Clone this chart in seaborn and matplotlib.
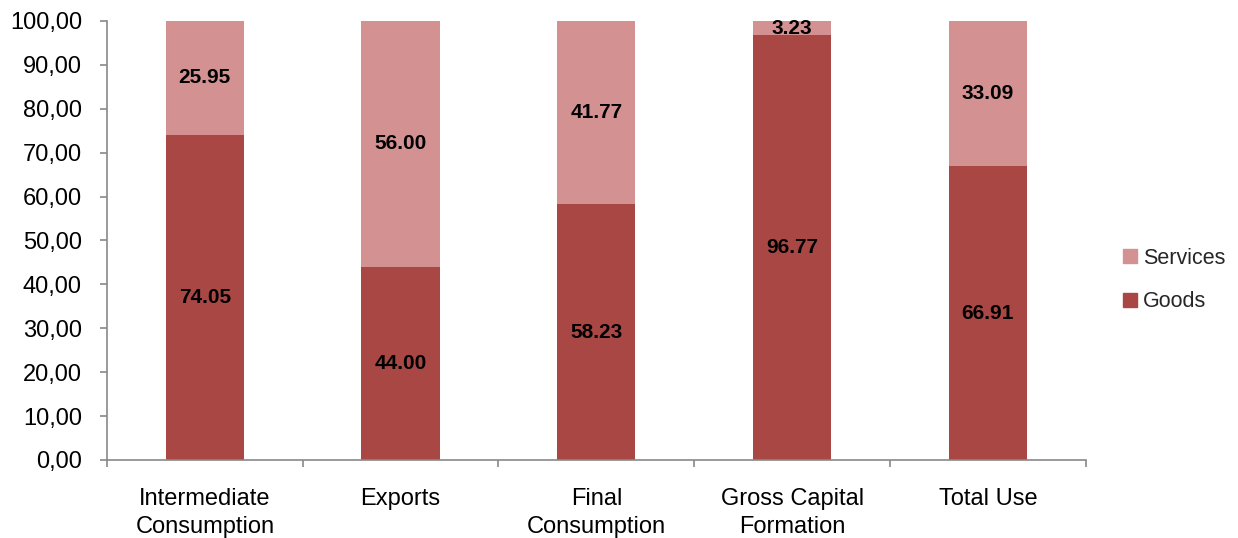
import pandas as pd
import seaborn as sns
import matplotlib.pyplot as plt
from matplotlib.patches import Patch
from matplotlib.ticker import FuncFormatter

# data
categories = ['Intermediate\nConsumption', 'Exports', 'Final\nConsumption',
              'Gross Capital\nFormation', 'Total Use']
goods = [74.05, 44.00, 58.23, 96.77, 66.91]
services = [25.95, 56.00, 41.77, 3.23, 33.09]

goods_color = '#A94745'
services_color = '#D39291'
axis_color = '#898989'

df = pd.DataFrame({'category': categories, 'goods': goods, 'services': services})
df['total'] = df['goods'] + df['services']

sns.set_theme(style='white')
plt.rcParams['font.family'] = ['Liberation Sans', 'DejaVu Sans']

fig = plt.figure(figsize=(12.38, 5.38), dpi=100)
ax = fig.add_axes([0.0864, 0.145, 0.7906, 0.816])

# stack by drawing the total first, then goods on top of it
sns.barplot(data=df, x='category', y='total', color=services_color, width=0.4,
            saturation=1, linewidth=0, ax=ax)
sns.barplot(data=df, x='category', y='goods', color=goods_color, width=0.4,
            saturation=1, linewidth=0, ax=ax)

for i, row in df.iterrows():
    ax.text(i, row['goods'] / 2, f"{row['goods']:.2f}", ha='center', va='center',
            fontsize=15, fontweight='bold', color='black')
    ax.text(i, row['goods'] + row['services'] / 2, f"{row['services']:.2f}",
            ha='center', va='center', fontsize=15, fontweight='bold', color='black')

ax.set_xlim(-0.5, len(categories) - 0.5)
ax.set_ylim(0, 100)
ax.set_yticks(range(0, 101, 10))
ax.yaxis.set_major_formatter(FuncFormatter(lambda v, p: f'{v:.2f}'.replace('.', ',')))
ax.set_xlabel('')
ax.set_ylabel('')

# tick marks between categories, labels without ticks
ax.set_xticks([i - 0.5 for i in range(len(categories) + 1)], minor=True)
ax.tick_params(axis='x', which='major', bottom=True, length=0, pad=20, labelsize=17)
ax.tick_params(axis='x', which='minor', bottom=True, length=5, width=1.2,
               color=axis_color, direction='out')
ax.tick_params(axis='y', left=True, length=5, width=1.2, color=axis_color,
               direction='out', labelsize=17, pad=13)
ax.tick_params(axis='both', labelcolor='black')
for lab in ax.get_xticklabels():
    lab.set_linespacing(1.35)

sns.despine(ax=ax)
for side in ['left', 'bottom']:
    ax.spines[side].set_color(axis_color)
    ax.spines[side].set_linewidth(1.2)

handles = [Patch(color=services_color, label='Services'),
           Patch(color=goods_color, label='Goods')]
ax.legend(handles=handles, loc='center left', bbox_to_anchor=(1.018, 0.41),
          frameon=False, fontsize=15.5, handlelength=0.65, handleheight=0.65,
          handletextpad=0.3, labelspacing=1.05)

fig.savefig('out.png', dpi=100)
